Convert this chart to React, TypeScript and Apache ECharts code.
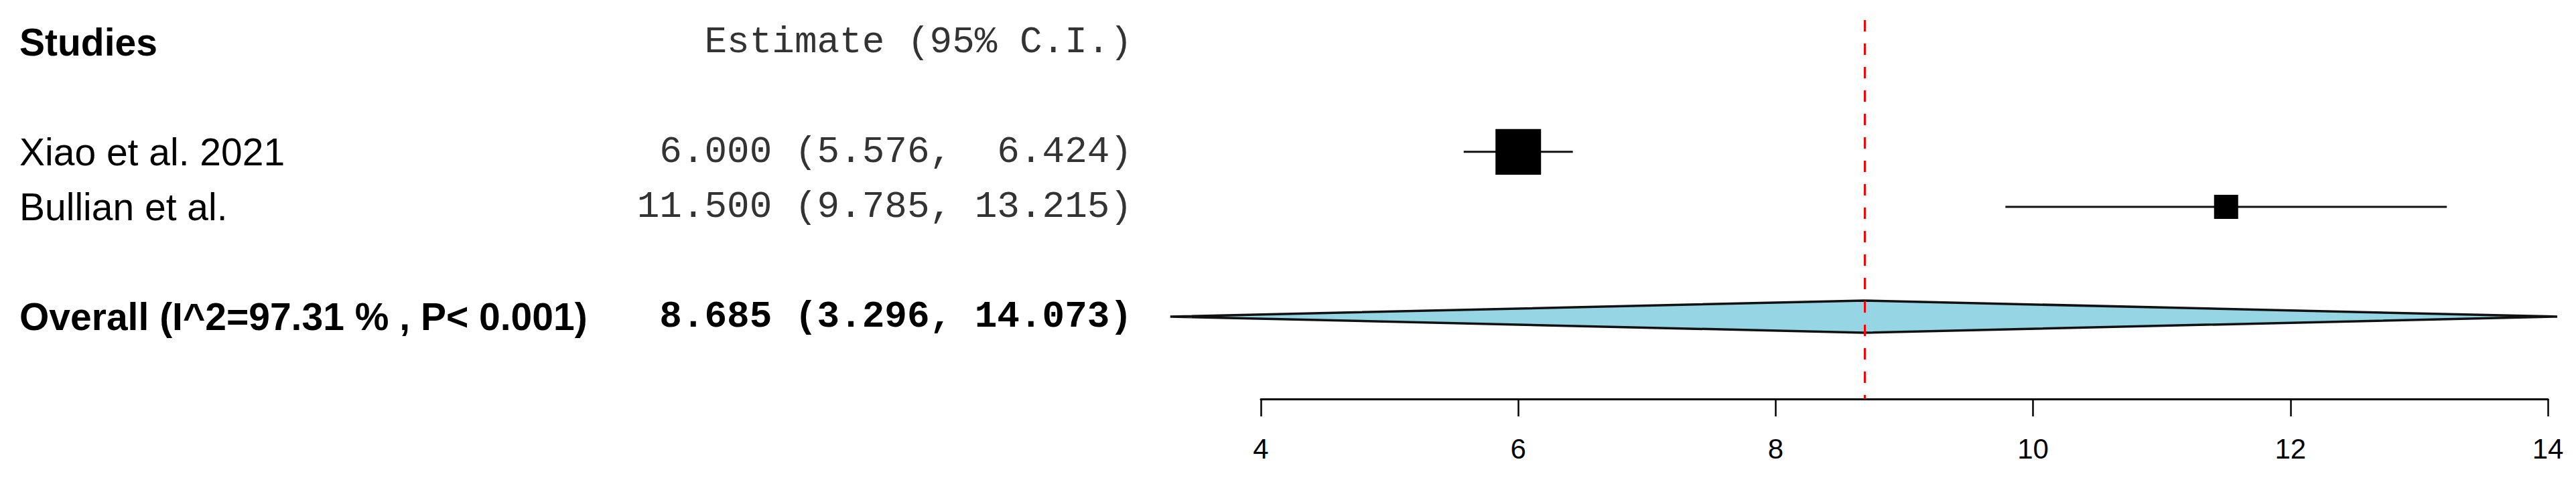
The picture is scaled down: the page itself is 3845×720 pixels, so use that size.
import React, { useEffect, useRef } from "react";
import * as echarts from "echarts";

// ---- data ----
const headerLabels = ["Studies", "Estimate (95% C.I.)"];
const headerRow = 0;

const studyNames = ["Xiao et al. 2021", "Bullian et al."];
const studyEstimates = [6.0, 11.5];
const studyLower = [5.576, 9.785];
const studyUpper = [6.424, 13.215];
const studyWeights = [0.654, 0.346];
const studyRows = [2, 3];

const overallLabel = "Overall (I^2=97.31 % , P< 0.001)";
const overallEstimate = 8.685;
const overallLower = 3.296;
const overallUpper = 14.073;
const overallRow = 5;

const xTicks = [4, 6, 8, 10, 12, 14];

// ---- helpers ----
const fmtCI = (e: number, lo: number, hi: number) =>
  `${e.toFixed(3)} (${lo.toFixed(3)}, ${hi.toFixed(3).padStart(6, "\u00A0")})`;

const tableRows = [headerRow, ...studyRows, overallRow];
const tableLeft = [headerLabels[0], ...studyNames, overallLabel];
const tableRight = [
  headerLabels[1],
  ...studyNames.map((_, i) => fmtCI(studyEstimates[i], studyLower[i], studyUpper[i])),
  fmtCI(overallEstimate, overallLower, overallUpper),
];
const leftBold = [true, false, false, true];
const rightBold = [false, false, false, true];

export default function App() {
  const ref = useRef<HTMLDivElement>(null);
  useEffect(() => {
    if (!ref.current) return;
    const chart = echarts.init(ref.current, null, { renderer: "svg" });
    const option: any = {
      animation: false,
      backgroundColor: "#ffffff",
      grid: { left: 1882, right: 42, top: 30, bottom: 124 },
      xAxis: {
        type: "value",
        min: xTicks[0],
        max: xTicks[xTicks.length - 1],
        interval: xTicks[1] - xTicks[0],
        axisLine: { show: true, onZero: false, lineStyle: { color: "#000", width: 3 } },
        axisTick: { show: true, length: 26, lineStyle: { color: "#000", width: 2.5 } },
        axisLabel: {
          fontSize: 42,
          fontFamily: "Liberation Sans, Arial, sans-serif",
          color: "#000",
          margin: 53,
        },
        splitLine: { show: false },
      },
      yAxis: { type: "value", inverse: true, min: -0.4, max: 6.5, show: false },
      series: [
        {
          type: "custom",
          name: "table",
          z: 1,
          data: tableRows.map((r) => [xTicks[0], r]),
          encode: { x: 0, y: 1 },
          renderItem: (params: any, api: any) => {
            const i = params.dataIndex;
            const y = api.coord([xTicks[0], api.value(1)])[1];
            return {
              type: "group",
              children: [
                {
                  type: "text",
                  x: 29,
                  y,
                  style: {
                    text: tableLeft[i],
                    fill: "#000",
                    fontSize: 57,
                    fontFamily: "Liberation Sans, Arial, sans-serif",
                    fontWeight: leftBold[i] ? "bold" : "normal",
                    align: "left",
                    verticalAlign: "middle",
                  },
                },
                {
                  type: "text",
                  x: 1690,
                  y,
                  style: {
                    text: tableRight[i],
                    fill: rightBold[i] ? "#000" : "#333",
                    fontSize: 56,
                    fontFamily: "Liberation Mono, monospace",
                    fontWeight: rightBold[i] ? "bold" : "normal",
                    align: "right",
                    verticalAlign: "middle",
                  },
                },
              ],
            };
          },
          markLine: {
            silent: true,
            symbol: "none",
            label: { show: false },
            lineStyle: { color: "#ff0000", type: [17, 18], width: 3 },
            data: [{ xAxis: overallEstimate }],
          },
        },
        {
          type: "custom",
          name: "studies",
          z: 3,
          data: studyRows.map((r, i) => [
            studyEstimates[i],
            r,
            studyLower[i],
            studyUpper[i],
            studyWeights[i],
          ]),
          encode: { x: [0, 2, 3], y: 1 },
          renderItem: (params: any, api: any) => {
            const row = api.value(1);
            const c = api.coord([api.value(0), row]);
            const l = api.coord([api.value(2), row]);
            const h = api.coord([api.value(3), row]);
            const s = api.value(4) * 104;
            return {
              type: "group",
              children: [
                {
                  type: "line",
                  shape: { x1: l[0], y1: l[1], x2: h[0], y2: h[1] },
                  style: { stroke: "#111", lineWidth: 3 },
                },
                {
                  type: "rect",
                  shape: { x: c[0] - s / 2, y: c[1] - s / 2, width: s, height: s },
                  style: { fill: "#000" },
                },
              ],
            };
          },
        },
        {
          type: "custom",
          name: "overall",
          z: 3,
          data: [[overallEstimate, overallRow, overallLower, overallUpper]],
          encode: { x: [0, 2, 3], y: 1 },
          renderItem: (params: any, api: any) => {
            const row = api.value(1);
            const c = api.coord([api.value(0), row]);
            const l = api.coord([api.value(2), row]);
            const h = api.coord([api.value(3), row]);
            const hh = 24;
            return {
              type: "polygon",
              shape: {
                points: [
                  [l[0], c[1]],
                  [c[0], c[1] - hh],
                  [h[0], c[1]],
                  [c[0], c[1] + hh],
                ],
              },
              style: { fill: "#96D6E4", stroke: "#111", lineWidth: 3.5 },
            };
          },
        },
      ],
    };
    chart.setOption(option);
    return () => chart.dispose();
  }, []);
  return (
    <div
      ref={ref}
      style={{ position: "absolute", left: 0, top: 0, width: 3845, height: 720, background: "#fff" }}
    />
  );
}
